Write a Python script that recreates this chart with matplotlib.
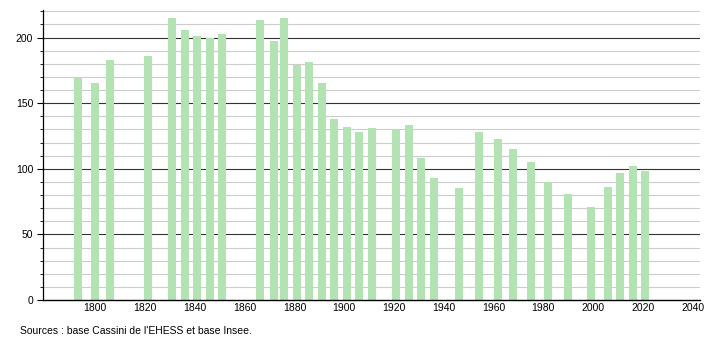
import numpy as np, matplotlib; matplotlib.use("Agg")
import matplotlib.pyplot as plt
from matplotlib.ticker import MultipleLocator

plt.rcParams['font.family'] = ['Liberation Sans', 'DejaVu Sans']

years = [1793, 1800, 1806, 1821, 1831, 1836, 1841, 1846, 1851, 1866, 1872, 1876, 1881, 1886,
         1891, 1896, 1901, 1906, 1911, 1921, 1926, 1931, 1936, 1946, 1954, 1962, 1968, 1975,
         1982, 1990, 1999, 2006, 2011, 2016, 2021]
pop = [170, 165, 183, 186, 215, 206, 201, 200, 203, 213, 197, 215, 179, 181,
       165, 138, 132, 128, 131, 130, 133, 108, 93, 85, 128, 123, 115, 105,
       90, 81, 71, 86, 97, 102, 98]
xticks = list(range(1800, 2041, 20))

fig = plt.figure(figsize=(7.1, 3.4), dpi=100)
ax = fig.add_axes([0.0606, 0.1176, 0.9254, 0.853])

for y in range(10, 221, 10):
    ax.axhline(y, color='#333333' if y % 50 == 0 else '#cccccc', lw=0.8, zorder=0)
ax.bar(years, pop, width=3.2, color='#b3e3b3', zorder=2)

ax.set_xlim(1779, 2043); ax.set_ylim(0, 221)
ax.set_xticks(xticks); ax.set_yticks([0, 50, 100, 150, 200])
ax.yaxis.set_minor_locator(MultipleLocator(10))
ax.tick_params(axis='x', length=0, labelsize=7.5, pad=2.5)
ax.tick_params(axis='y', which='major', length=4, labelsize=7.5, pad=3)
ax.tick_params(axis='y', which='minor', length=2.5)
for sp in ['top', 'right']: ax.spines[sp].set_visible(False)
ax.spines['left'].set_bounds(0, 221)
ax.spines['left'].set_linewidth(0.9); ax.spines['bottom'].set_linewidth(1.0)

fig.text(0.028, 0.018, "Sources : base Cassini de l'EHESS et base Insee.", fontsize=7.5)
fig.savefig("out.png", dpi=100)
